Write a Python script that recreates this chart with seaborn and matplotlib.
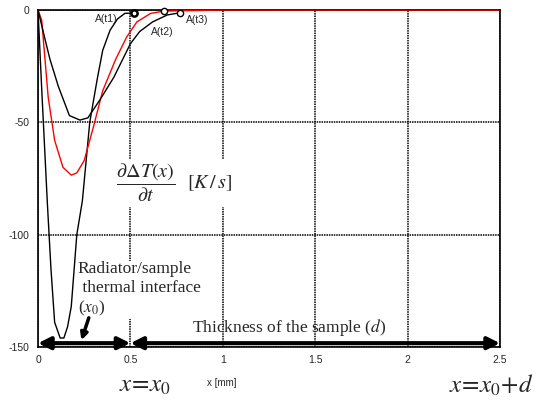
import matplotlib
matplotlib.use("Agg")
import matplotlib.pyplot as plt
import seaborn as sns
import pandas as pd

# --- data ---
x_t1 = [0, 0.02, 0.05, 0.07, 0.09, 0.12, 0.14, 0.16, 0.18, 0.21, 0.24, 0.28, 0.32, 0.35, 0.39, 0.43, 0.47, 0.52]
y_t1 = [0, -35, -85, -115, -139, -146, -146, -141, -132, -100, -85, -50, -31, -18, -9, -4, -1.5, -1.3]

x_t2 = [0, 0.02, 0.055, 0.09, 0.135, 0.18, 0.21, 0.25, 0.30, 0.35, 0.42, 0.48, 0.535, 0.61, 0.68, 1.0, 1.5, 2.0, 2.5]
y_t2 = [0, -4.5, -38.7, -58, -70, -73.5, -72.5, -67, -52, -36, -22, -12, -5.3, -1.5, -0.5, 0, 0, 0, 0]

x_t3 = [0, 0.038, 0.065, 0.11, 0.17, 0.227, 0.27, 0.335, 0.41, 0.50, 0.55, 0.62, 0.70, 0.77]
y_t3 = [0, -13, -22, -34, -47, -49, -48, -40, -30, -15, -9.6, -5.3, -2.2, -1.2]

series_names = ["A(t1)", "A(t2)", "A(t3)"]
series_colors = ["black", "red", "black"]
x_ticks = [0, 0.5, 1, 1.5, 2, 2.5]
x_tick_labels = ["0", "0.5", "1", "1.5", "2", "2.5"]
y_ticks = [0, -50, -100, -150]
y_tick_labels = ["0", "-50", "-100", "-150"]

df = pd.concat([
    pd.DataFrame({"x": x_t1, "y": y_t1, "s": series_names[0]}),
    pd.DataFrame({"x": x_t2, "y": y_t2, "s": series_names[1]}),
    pd.DataFrame({"x": x_t3, "y": y_t3, "s": series_names[2]}),
])

sns.set_style("white")
plt.rcParams["font.family"] = ["Liberation Sans", "DejaVu Sans"]
plt.rcParams["mathtext.fontset"] = "stix"

fig = plt.figure(figsize=(5.36, 4.0), dpi=100)
ax = fig.add_axes([38/536, 1-347/400, 462/536, 337/400])

ax.set_xlim(0, 2.5)
ax.set_ylim(-150, 0)
ax.set_xticks(x_ticks)
ax.set_xticklabels(x_tick_labels)
ax.set_yticks(y_ticks)
ax.set_yticklabels(y_tick_labels)
ax.tick_params(labelsize=7.5, length=0, pad=6)
ax.grid(True, color="black", linestyle=(0, (1, 0.6)), linewidth=1.1)
for sp in ax.spines.values():
    sp.set_color("black")
    sp.set_linewidth(1.2)

sns.lineplot(data=df, x="x", y="y", hue="s", palette=dict(zip(series_names, series_colors)),
             linewidth=1.0, ax=ax, legend=False, sort=False, estimator=None, zorder=3)

# end markers
ax.plot(x_t1[-1], y_t1[-1], "o", mfc="white", mec="black", mew=1.8, ms=4.5, zorder=5, clip_on=False)
ax.plot(x_t2[14], y_t2[14], "o", mfc="white", mec="black", mew=1.0, ms=4.5, zorder=5, clip_on=False)
ax.plot(x_t3[-1], y_t3[-1], "o", mfc="white", mec="black", mew=1.0, ms=4.5, zorder=5, clip_on=False)

ax.text(0.31, -4, "A(t1)", fontsize=7.5, va="center", ha="left")
ax.text(0.61, -10, "A(t2)", fontsize=7.5, va="center", ha="left")
ax.text(0.80, -4.5, "A(t3)", fontsize=7.5, va="center", ha="left")

ax.set_xlabel("")
ax.set_ylabel("")

# fraction annotation
ax.text(0.74, -77, r"$\dfrac{\partial\Delta T(x)}{\partial t}$  $[K\,/\,s]$", fontsize=14.5,
        ha="center", va="center", zorder=6,
        bbox=dict(facecolor="white", edgecolor="none", pad=2))

ax.text(0.215, -111.5, "Radiator/sample\n thermal interface\n" + r"($\mathit{x}_{\mathit{0}}$)",
        family="Liberation Serif", fontsize=12.5, ha="left", va="top", linespacing=1.25,
        zorder=6, bbox=dict(facecolor="white", edgecolor="none", pad=0.5))

ax.text(1.36, -141.5, r"Thickness of the sample ($d$)", family="Liberation Serif",
        fontsize=12.5, ha="center", va="center", zorder=6)

# double arrows
arr = dict(arrowstyle="<|-|>", color="black", lw=3, mutation_scale=18, shrinkA=0, shrinkB=0)
ax.annotate("", xy=(0, -148.3), xytext=(0.5, -148.3), arrowprops=arr, zorder=7, annotation_clip=False)
ax.annotate("", xy=(0.5, -148.3), xytext=(2.5, -148.3), arrowprops=arr, zorder=7, annotation_clip=False)
ax.annotate("", xy=(0.235, -147), xytext=(0.275, -137),
            arrowprops=dict(arrowstyle="-|>", color="black", lw=2.5, mutation_scale=10,
                            shrinkA=0, shrinkB=0), zorder=7)

fig.text(222/536, 1-383/400, "x [mm]", fontsize=7, ha="center", va="center")
fig.text(145/536, 1-385/400, r"$x\!=\!x_{\mathit{0}}$", fontsize=18, ha="center", va="center")
fig.text(534/536, 1-385/400, r"$x\!=\!x_{\mathit{0}}\!+\!d$", fontsize=18, ha="right", va="center")

fig.savefig("out.png", dpi=100)
